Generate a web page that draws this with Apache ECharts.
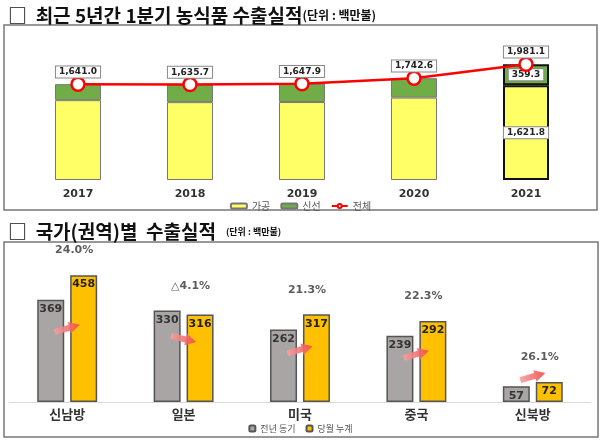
<!DOCTYPE html>
<html><head><meta charset="utf-8">
<script src="https://cdn.jsdelivr.net/npm/echarts@6/dist/echarts.min.js"></script>
<style>html,body{margin:0;padding:0;background:#fff}#c{width:601px;height:440px}</style>
</head><body><div id="c"></div>
<script>
// ---- top chart data ----
const years = ['2017','2018','2019','2020','2021'];
const processed = [1367.0, 1333.0, 1335.0, 1411.0, 1621.8];   // 가공
const fresh     = [274.0, 302.7, 312.9, 331.6, 359.3];        // 신선
// ---- bottom chart data ----
const regions = ['신남방','일본','미국','중국','신북방'];
const prevYear = [369, 330, 262, 239, 57];   // 전년 동기
const current  = [458, 316, 317, 292, 72];   // 당월 누계
const changeLabels = ['24.0%','△4.1%','21.3%','22.3%','26.1%'];

const total = processed.map((v,i)=>+(v+fresh[i]).toFixed(1));
const fmt1 = v => Number(v).toLocaleString('en-US',{minimumFractionDigits:1,maximumFractionDigits:1});
const KR = '"Noto Sans CJK KR", sans-serif';
const NUM = '"DejaVu Sans", sans-serif';
const boxLabel = {fontFamily:NUM,fontWeight:'bold',fontSize:9,color:'#222',backgroundColor:'#fff',borderColor:'#888',borderWidth:1,padding:[1,3]};

const chart = echarts.init(document.getElementById('c'), null, {renderer:'canvas'});
const last = years.length-1;

const arrowPath = 'path://M0,3 L14,3 L14,0 L24,6 L14,12 L14,9 L0,9 Z';

chart.setOption({
  animation:false,
  title:[
    {left:3, top:1, text:'{a|□  최근 5년간 1분기 농식품 수출실적}{b|(단위 : 백만불)}',
     textStyle:{rich:{a:{fontFamily:KR,fontWeight:'bold',fontSize:19,color:'#111'},b:{fontFamily:KR,fontSize:12,color:'#111'}}}},
    {left:3, top:217, text:'{a|□  국가(권역)별  수출실적}  {b|(단위 : 백만불)}',
     textStyle:{rich:{a:{fontFamily:KR,fontWeight:'bold',fontSize:19,color:'#111'},b:{fontFamily:KR,fontSize:9,color:'#111'}}}}
  ],
  graphic:[
    {type:'rect',shape:{x:4,y:25,width:593,height:185},style:{fill:'none',stroke:'#777',lineWidth:1.5},z:-1},
    {type:'rect',shape:{x:4,y:242,width:594,height:195},style:{fill:'none',stroke:'#777',lineWidth:1.5},z:-1}
  ],
  legend:[
    {data:['가공','신선','전체'],left:'center',top:196,itemWidth:16,itemHeight:5,itemGap:10,
     textStyle:{fontFamily:KR,fontSize:10,color:'#555'}},
    {data:['전년 동기','당월 누계'],left:'center',top:419,itemWidth:6,itemHeight:6,itemGap:10,
     textStyle:{fontFamily:KR,fontSize:9,color:'#555'}}
  ],
  grid:[
    {left:22,right:19,top:34,bottom:260},
    {left:9,right:10,top:263.5,bottom:38}
  ],
  xAxis:[
    {type:'category',gridIndex:0,data:years,axisLine:{show:false},axisTick:{show:false},
     axisLabel:{fontFamily:NUM,fontWeight:'bold',fontSize:11,color:'#333',margin:9}},
    {type:'category',gridIndex:1,data:regions,axisLine:{lineStyle:{color:'#d9d9d9'}},axisTick:{show:false},
     axisLabel:{fontFamily:KR,fontWeight:'bold',fontSize:13,color:'#333',margin:6}}
  ],
  yAxis:[
    {type:'value',gridIndex:0,min:0,max:2500,show:false},
    {type:'value',gridIndex:1,min:0,max:500,show:false}
  ],
  series:[
    {name:'가공',type:'bar',stack:'a',xAxisIndex:0,yAxisIndex:0,barWidth:46,
     itemStyle:{color:'#ffff66',borderColor:'#777',borderWidth:1},
     data:processed.map((v,i)=> i===last ? {value:v,itemStyle:{borderColor:'#111',borderWidth:2},
       label:{show:true,position:'inside',formatter:p=>fmt1(p.value),...boxLabel}} : v)},
    {name:'신선',type:'bar',stack:'a',xAxisIndex:0,yAxisIndex:0,barWidth:46,
     itemStyle:{color:'#70ad47',borderColor:'#777',borderWidth:1},
     data:fresh.map((v,i)=> i===last ? {value:v,itemStyle:{borderColor:'#111',borderWidth:2},
       label:{show:true,position:'inside',formatter:p=>fmt1(p.value),...boxLabel}} : v)},
    {name:'전체',type:'line',xAxisIndex:0,yAxisIndex:0,data:total,z:5,
     lineStyle:{color:'#ff0000',width:2.5},itemStyle:{color:'#fff',borderColor:'#ff0000',borderWidth:2.5},
     symbol:'circle',symbolSize:13,
     label:{show:true,position:'top',distance:-1,formatter:p=>fmt1(p.value),...boxLabel}},

    {name:'전년 동기',type:'bar',xAxisIndex:1,yAxisIndex:1,barWidth:27,barGap:'22%',data:prevYear,
     itemStyle:{color:'#aaa5a5',borderColor:'#555',borderWidth:1.5},
     label:{show:true,position:'insideTop',distance:4,fontFamily:NUM,fontWeight:'bold',fontSize:11,color:'#333'}},
    {name:'당월 누계',type:'bar',xAxisIndex:1,yAxisIndex:1,barWidth:27,barGap:'22%',data:current,
     itemStyle:{color:'#ffc000',borderColor:'#555',borderWidth:1.5},
     label:{show:true,position:'insideTop',distance:4,fontFamily:NUM,fontWeight:'bold',fontSize:11,color:'#222'}},
    {type:'scatter',xAxisIndex:1,yAxisIndex:1,symbolSize:0,silent:true,z:6,
     data:current.map((v,i)=>({value:[i,Math.max(v,prevYear[i])],label:{formatter:changeLabels[i]}})),
     label:{show:true,position:'top',distance:19,offset:[7,0],fontFamily:NUM,fontWeight:'bold',fontSize:11,color:'#333'}},
    {type:'scatter',xAxisIndex:1,yAxisIndex:1,silent:true,z:7,symbol:arrowPath,symbolSize:[26,12],
     data:current.map((v,i)=>{
       const lo=Math.min(v,prevYear[i]), hi=Math.max(v,prevYear[i]);
       return {value:[i, lo<100 ? hi+20 : lo*0.72], symbolRotate: v>=prevYear[i] ? 16 : -14};
     }),
     itemStyle:{color:new echarts.graphic.LinearGradient(0,0,1,0,[{offset:0,color:'#f7a0a0'},{offset:1,color:'#f04848'}]),opacity:0.9}}
  ]
});
</script></body></html>
